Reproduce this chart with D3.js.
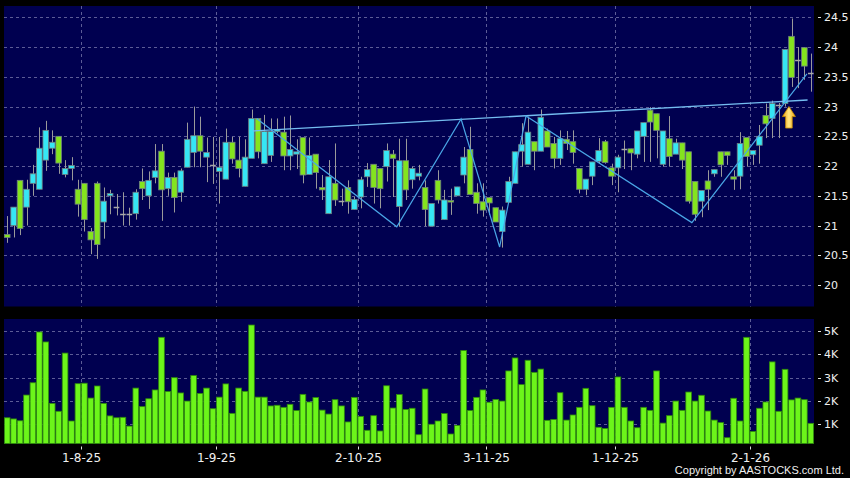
<!DOCTYPE html>
<html>
<head>
<meta charset="utf-8">
<script src="https://cdn.jsdelivr.net/npm/d3@7"></script>
<style>
  body { margin: 0; background: #000; }
  svg { display: block; font-family: "DejaVu Sans", sans-serif; }
</style>
</head>
<body>
<script>
// daily candles
const opens = [20.85,21.00,21.76,21.31,21.71,21.61,22.10,22.30,22.50,21.86,
  21.96,21.61,21.71,20.90,21.71,21.06,21.50,21.32,21.20,21.20,
  21.20,21.74,21.50,21.81,22.25,21.62,21.81,21.56,21.98,22.23,
  22.51,22.15,22.02,21.91,21.78,22.40,22.10,21.66,22.13,22.80,
  22.04,22.18,22.58,22.57,22.17,22.20,22.48,21.86,22.20,21.64,
  21.20,21.71,21.41,21.64,21.27,21.48,21.82,22.03,21.96,21.99,
  22.20,21.32,22.09,21.77,21.83,21.64,20.99,21.76,21.10,21.42,
  21.50,21.85,22.28,21.56,21.40,21.47,21.30,20.90,21.39,21.71,
  22.25,22.03,22.41,22.25,22.59,22.38,22.13,22.45,22.41,21.96,
  21.61,21.83,22.08,22.41,21.97,21.97,22.29,22.29,22.20,22.50,
  22.94,22.88,22.03,22.46,22.20,22.39,22.24,21.74,21.41,21.75,
  21.87,22.24,22.24,21.82,21.83,22.48,22.19,22.35,22.85,22.80,
  23.03,23.05,24.18,23.79,23.99,23.56];
const highs = [21.16,21.31,21.76,21.77,22.02,22.65,22.76,22.60,22.50,22.10,
  22.15,21.77,21.71,20.96,21.74,21.64,21.60,21.53,21.56,21.30,
  21.61,21.96,21.91,22.37,22.37,21.89,21.89,21.96,22.73,23.00,
  22.83,22.48,22.49,22.49,22.63,22.49,22.49,22.45,22.95,22.80,
  22.86,22.80,22.80,22.83,22.85,22.45,22.48,22.48,22.20,21.85,
  22.10,22.38,21.62,21.76,21.48,21.82,22.05,22.03,21.96,22.38,
  22.27,22.46,22.46,21.99,22.02,21.76,21.37,21.93,21.60,21.62,
  21.65,22.32,22.66,21.71,21.71,21.48,21.30,21.32,21.82,22.24,
  22.72,22.83,22.41,22.95,22.63,22.49,22.60,22.59,22.60,21.96,
  21.78,22.07,22.47,22.44,22.04,22.19,22.43,22.29,22.59,22.73,
  22.99,22.88,22.59,22.84,22.46,22.39,22.24,21.74,21.59,21.93,
  21.94,22.24,22.24,21.93,22.57,22.48,22.26,22.69,23.05,23.10,
  23.06,23.96,24.48,24.00,23.99,23.89];
const lows = [20.71,20.80,20.84,21.00,21.50,21.61,21.92,22.20,21.87,21.81,
  21.76,21.15,20.90,20.52,20.44,20.78,21.19,21.17,21.00,21.00,
  21.10,21.43,21.28,21.71,21.08,21.50,21.22,21.40,21.98,21.98,
  21.98,21.73,21.70,21.37,21.78,22.04,21.81,21.66,22.13,22.13,
  22.04,22.07,22.55,21.93,21.93,21.95,21.71,21.86,21.62,21.43,
  21.20,21.33,21.33,21.20,21.27,21.29,21.65,21.37,21.29,21.74,
  21.48,20.98,21.43,21.62,21.76,20.99,20.99,21.37,21.10,21.18,
  21.50,21.71,21.52,21.20,21.15,21.18,21.06,20.63,21.39,21.71,
  21.99,22.03,21.93,22.25,22.32,21.96,22.02,22.27,22.04,21.54,
  21.51,21.68,22.04,22.04,21.68,21.56,21.95,21.93,22.13,22.07,
  22.07,22.13,21.99,21.99,22.20,21.95,21.37,21.08,21.14,21.26,
  21.82,21.82,22.02,21.60,21.61,21.99,22.02,22.04,22.47,22.47,
  22.47,23.00,23.33,23.31,23.45,23.25];
const closes = [20.80,21.31,20.95,21.61,21.87,22.30,22.60,22.40,22.05,21.96,
  22.01,21.36,21.10,20.76,20.68,21.41,21.54,21.32,21.20,21.20,
  21.56,21.62,21.76,21.92,21.60,21.81,21.47,21.92,22.45,22.51,
  22.25,22.23,22.02,21.98,22.40,22.12,21.96,22.15,22.80,22.24,
  22.58,22.58,22.61,22.17,22.28,22.24,21.85,22.18,21.89,21.60,
  21.82,21.43,21.41,21.40,21.44,21.77,21.94,21.64,21.62,22.26,
  22.13,22.09,21.60,21.96,21.88,21.27,21.37,21.43,21.43,21.40,
  21.65,22.15,21.52,21.37,21.26,21.38,21.06,21.26,21.74,22.24,
  22.36,22.57,22.25,22.82,22.32,22.13,22.46,22.38,22.23,21.61,
  21.78,22.07,22.26,22.06,21.83,22.15,22.29,22.22,22.59,22.73,
  22.74,22.60,22.59,22.16,22.39,22.10,21.41,21.19,21.59,21.61,
  21.94,22.02,22.18,21.78,22.38,22.16,22.26,22.50,22.71,23.05,
  23.03,23.96,23.49,23.79,23.68,23.56];
// volume in thousands
const volumes = [1.27,1.22,1.14,2.25,2.78,4.97,4.54,1.89,1.55,4.06,
  1.13,2.74,2.76,2.12,2.64,1.89,1.35,1.27,1.29,0.91,
  2.55,1.75,2.09,2.47,4.74,2.40,3.00,2.34,1.99,3.09,
  2.32,2.55,1.66,2.16,2.73,1.46,2.55,2.41,5.27,2.16,
  2.16,1.78,1.81,1.72,1.85,1.58,2.28,1.95,2.14,1.60,
  1.43,2.05,1.78,1.09,2.15,1.33,0.73,1.36,0.70,2.65,
  1.69,2.27,1.63,1.68,0.54,2.51,0.99,1.13,1.45,0.57,
  0.94,4.17,1.58,2.15,2.47,1.94,2.06,1.99,3.29,3.85,
  2.70,3.75,3.23,3.37,1.16,1.20,2.35,1.17,1.39,1.72,
  2.54,1.79,0.86,0.81,1.72,3.03,1.72,1.13,0.84,1.72,
  1.59,3.29,1.04,1.36,1.99,1.59,2.38,1.99,2.24,1.56,
  1.17,1.06,0.41,2.11,1.13,4.74,0.68,1.68,1.95,3.68,
  1.55,3.36,2.04,2.12,2.05,1.03];

const dateTickIdx = [11, 32, 54, 74, 94, 115];
const dateTickLabels = ['1-8-25', '1-9-25', '2-10-25', '3-11-25', '1-12-25', '2-1-26'];
const priceTicks = [20, 20.5, 21, 21.5, 22, 22.5, 23, 23.5, 24, 24.5];
const volTicks = [1, 2, 3, 4, 5];
const volTickLabels = ['1K', '2K', '3K', '4K', '5K'];

// drawn lines (bar position, price)
const zigIdx = [39.3, 61.1, 71.1, 77.1, 81.2, 107, 124.9];
const zigPrice = [22.80, 20.98, 22.79, 20.64, 22.84, 21.05, 23.55];
const resIdx = [38.7, 125];
const resPrice = [22.59, 23.11];
const arrowIdx = 122.1;
const arrowPrice = 23.0;

let width = 850;
let height = 478;
let n = closes.length;

let left = 4, right = 814;
let pTop = 6, pBottom = 306.5;
let vTop = 319, vBottom = 443.5;

let svg = d3.select('body')
  .append('svg')
  .attr('width', width)
  .attr('height', height)
  .style('background', '#000');

let x = d3.scaleBand()
  .domain(d3.range(n))
  .range([left, right])
  .paddingInner(0.12)
  .paddingOuter(0.06);

let xPos = d3.scaleLinear().domain([0, n]).range([left, right]);

let y = d3.scaleLinear().domain([19.64, 24.69]).range([pBottom, pTop]);
let vy = d3.scaleLinear().domain([0.16, 5.53]).range([vBottom, vTop]);

// panels
svg.append('rect')
  .attr('x', left).attr('y', pTop)
  .attr('width', right - left).attr('height', pBottom - pTop)
  .attr('fill', '#000050');
svg.append('rect')
  .attr('x', left).attr('y', vTop)
  .attr('width', right - left).attr('height', vBottom - vTop)
  .attr('fill', '#000050');

let grid = svg.append('g')
  .attr('stroke', '#5c5c96')
  .attr('stroke-width', 1)
  .attr('stroke-dasharray', '3,3');

grid.selectAll(null)
  .data(priceTicks)
  .enter()
  .append('line')
  .attr('x1', left).attr('x2', right)
  .attr('y1', (d) => { return Math.round(y(d)) + 0.5; })
  .attr('y2', (d) => { return Math.round(y(d)) + 0.5; });

grid.selectAll(null)
  .data(volTicks)
  .enter()
  .append('line')
  .attr('x1', left).attr('x2', right)
  .attr('y1', (d) => { return Math.round(vy(d)) + 0.5; })
  .attr('y2', (d) => { return Math.round(vy(d)) + 0.5; });

dateTickIdx.forEach((i) => {
  let gx = Math.round(xPos(i + 1)) + 0.5;
  grid.append('line').attr('x1', gx).attr('x2', gx).attr('y1', pTop).attr('y2', pBottom);
  grid.append('line').attr('x1', gx).attr('x2', gx).attr('y1', vTop).attr('y2', vBottom);
});

// candles
let candles = svg.append('g');

candles.selectAll(null)
  .data(d3.range(n))
  .enter()
  .append('line')
  .attr('x1', (i) => { return Math.round(x(i) + x.bandwidth() / 2) + 0.5; })
  .attr('x2', (i) => { return Math.round(x(i) + x.bandwidth() / 2) + 0.5; })
  .attr('y1', (i) => { return y(highs[i]); })
  .attr('y2', (i) => { return y(lows[i]); })
  .attr('stroke', '#9a9a9a')
  .attr('stroke-width', 1);

candles.selectAll(null)
  .data(d3.range(n).filter((i) => { return opens[i] !== closes[i]; }))
  .enter()
  .append('rect')
  .attr('x', (i) => { return x(i); })
  .attr('width', x.bandwidth())
  .attr('y', (i) => { return y(Math.max(opens[i], closes[i])); })
  .attr('height', (i) => { return Math.max(1.5, Math.abs(y(opens[i]) - y(closes[i]))); })
  .attr('fill', (i) => { return closes[i] > opens[i] ? '#36e6f4' : '#84e41e'; })
  .attr('stroke', '#6f7f80')
  .attr('stroke-width', 0.8);

candles.selectAll(null)
  .data(d3.range(n).filter((i) => { return opens[i] === closes[i]; }))
  .enter()
  .append('line')
  .attr('x1', (i) => { return x(i); })
  .attr('x2', (i) => { return x(i) + x.bandwidth(); })
  .attr('y1', (i) => { return Math.round(y(closes[i])) + 0.5; })
  .attr('y2', (i) => { return Math.round(y(closes[i])) + 0.5; })
  .attr('stroke', '#a8a8a8')
  .attr('stroke-width', 1.5);

// volume bars
svg.append('g')
  .selectAll(null)
  .data(volumes)
  .enter()
  .append('rect')
  .attr('x', (d, i) => { return x(i); })
  .attr('width', x.bandwidth())
  .attr('y', (d) => { return vy(d); })
  .attr('height', (d) => { return vBottom - vy(d); })
  .attr('fill', '#6cf51a')
  .attr('stroke', '#2f8a0c')
  .attr('stroke-width', 0.8);

// trend lines
let line = d3.line()
  .x((d) => { return xPos(d[0]); })
  .y((d) => { return y(d[1]); });

svg.append('path')
  .datum(d3.zip(resIdx, resPrice))
  .attr('d', line)
  .attr('fill', 'none')
  .attr('stroke', '#74bdf0')
  .attr('stroke-width', 1.3);

svg.append('path')
  .datum(d3.zip(zigIdx, zigPrice))
  .attr('d', line)
  .attr('fill', 'none')
  .attr('stroke', '#4aa6e6')
  .attr('stroke-width', 1.2);

// breakout arrow
let grad = svg.append('defs').append('linearGradient')
  .attr('id', 'arrowFill')
  .attr('x1', '0%').attr('x2', '100%');
grad.append('stop').attr('offset', '0%').attr('stop-color', '#f0a010');
grad.append('stop').attr('offset', '50%').attr('stop-color', '#ffe680');
grad.append('stop').attr('offset', '100%').attr('stop-color', '#f0a010');

svg.append('path')
  .attr('transform', 'translate(' + xPos(arrowIdx) + ',' + y(arrowPrice) + ')')
  .attr('d', 'M0,0 L6.5,10 L3.3,10 L3.3,21.5 L-3.3,21.5 L-3.3,10 L-6.5,10 Z')
  .attr('fill', 'url(#arrowFill)')
  .attr('stroke', '#c78a00')
  .attr('stroke-width', 0.8);

// right axis labels
let axisText = svg.append('g')
  .attr('fill', '#f0f0f0')
  .attr('font-size', 11);

priceTicks.forEach((d) => {
  let ty = Math.round(y(d)) + 0.5;
  svg.append('line').attr('x1', 818).attr('x2', 821).attr('y1', ty).attr('y2', ty)
    .attr('stroke', '#dddddd');
  axisText.append('text').attr('x', 824).attr('y', ty).attr('dy', '0.36em').text(d);
});

volTicks.forEach((d, k) => {
  let ty = Math.round(vy(d)) + 0.5;
  svg.append('line').attr('x1', 818).attr('x2', 821).attr('y1', ty).attr('y2', ty)
    .attr('stroke', '#dddddd');
  axisText.append('text').attr('x', 824).attr('y', ty).attr('dy', '0.36em').text(volTickLabels[k]);
});

// date labels
dateTickIdx.forEach((i, k) => {
  let tx = Math.round(xPos(i + 1)) + 0.5;
  svg.append('line').attr('x1', tx).attr('x2', tx).attr('y1', 446.5).attr('y2', 449.5)
    .attr('stroke', '#dddddd');
  svg.append('text')
    .attr('x', tx).attr('y', 462)
    .attr('text-anchor', 'middle')
    .attr('fill', '#f0f0f0')
    .attr('font-size', 12)
    .text(dateTickLabels[k]);
});

svg.append('text')
  .attr('x', 844).attr('y', 474)
  .attr('text-anchor', 'end')
  .attr('fill', '#f0f0f0')
  .attr('font-family', '"Liberation Sans", sans-serif')
  .attr('font-size', 11)
  .text('Copyright by AASTOCKS.com Ltd.');
</script>
</body>
</html>
